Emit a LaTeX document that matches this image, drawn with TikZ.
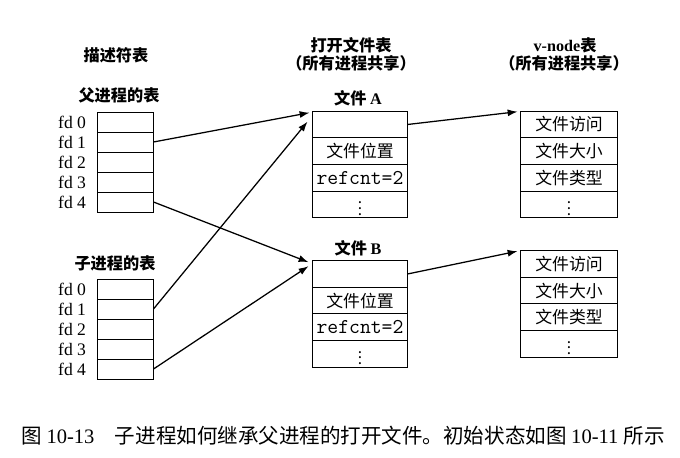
\documentclass[tikz,border=0pt]{standalone}
\usepackage{fontspec}
\setmainfont{Liberation Serif}
\newfontfamily\cjk{Noto Sans CJK SC}
\usetikzlibrary{arrows.meta,positioning}

\begin{document}
\begin{tikzpicture}[x=0.025cm,y=-0.025cm,line width=0.7pt,
    font=\fontsize{12.5}{14}\selectfont,
    fdcell/.style={draw,minimum width=1.4cm,minimum height=0.5cm,inner sep=0},
    fdlab/.style={left=0.25cm of #1,inner sep=0},
    filecell/.style={draw,minimum width=2.35cm,minimum height=0.665cm,inner sep=0,
      font=\fontsize{12}{14}\selectfont\cjk},
    vcell/.style={filecell,minimum width=2.4cm},
    head/.style={inner sep=1pt,font=\fontsize{11.5}{14}\selectfont\cjk\bfseries},
    ptr/.style={-{Latex[length=7pt,width=5pt]},line width=0.9pt}]
    \useasboundingbox (0,0) rectangle (680,458);
    \node[head] (desc) at (116,55) {描述符表};
    \node[head] (ptitle) at (119,95) {父进程的表};
    \node[head] (ctitle) at (115,263) {子进程的表};
    \foreach \i in {0,...,4} {
      \node[fdcell] (p\i) at (125,122+20*\i) {};
      \node[fdlab=p\i] {fd \i};
      \node[fdcell] (c\i) at (125,289+20*\i) {};
      \node[fdlab=c\i] {fd \i};
    }
    \node[head] (otab) at (351,45) {打开文件表};
    \node[head] (oshare) at (351,63) {（所有进程共享）};
    \node[head] (vtab) at (565,45) {\rmfamily v-node\cjk 表};
    \node[head] (vshare) at (564,63) {（所有进程共享）};
    \foreach \f/\y/\n in {a/124.5/A,b/274/B} {
      \node[head] (t\f) at (358,\y-26) {文件 \rmfamily\n};
      \foreach \txt [count=\i from 0] in {{},{文件位置},
          {\ttfamily\fontsize{15}{16}\selectfont refcnt=2},{\fontsize{11}{12}\selectfont$\vdots$}}
        \node[filecell] (f\f\i) at (360,\y+26.6*\i) {\txt};
    }
    \foreach \f/\y in {a/124.5,b/264} {
      \foreach \txt [count=\i from 0] in {{文件访问},{文件大小},{文件类型},
          {\fontsize{11}{12}\selectfont$\vdots$}}
        \node[vcell] (v\f\i) at (569,\y+26.6*\i) {\txt};
    }
    \draw[ptr] (p1.east) -- ([xshift=-0.075cm,yshift=-0.05cm]fa0.north west);
    \draw[ptr] (c1.east) -- ([xshift=-0.125cm,yshift=-0.275cm]fa0.north west);
    \draw[ptr] (p4.east) -- ([xshift=-0.1cm,yshift=-0.05cm]fb0.north west);
    \draw[ptr] (c4.east) -- ([xshift=-0.1cm,yshift=-0.15cm]fb0.north west);
    \draw[ptr] (fa0.east) -- ([xshift=-0.075cm,yshift=-0.025cm]va0.north west);
    \draw[ptr] (fb0.east) -- ([xshift=-0.075cm,yshift=-0.025cm]vb0.north west);
    \node[font=\fontsize{14.6}{16}\selectfont] (caption) at (343,436)
      {\cjk 图 \rmfamily 10-13\quad\cjk 子进程如何继承父进程的打开文件。初始状态如图 \rmfamily 10-11 \cjk 所示};
  \end{tikzpicture}
\end{document}
